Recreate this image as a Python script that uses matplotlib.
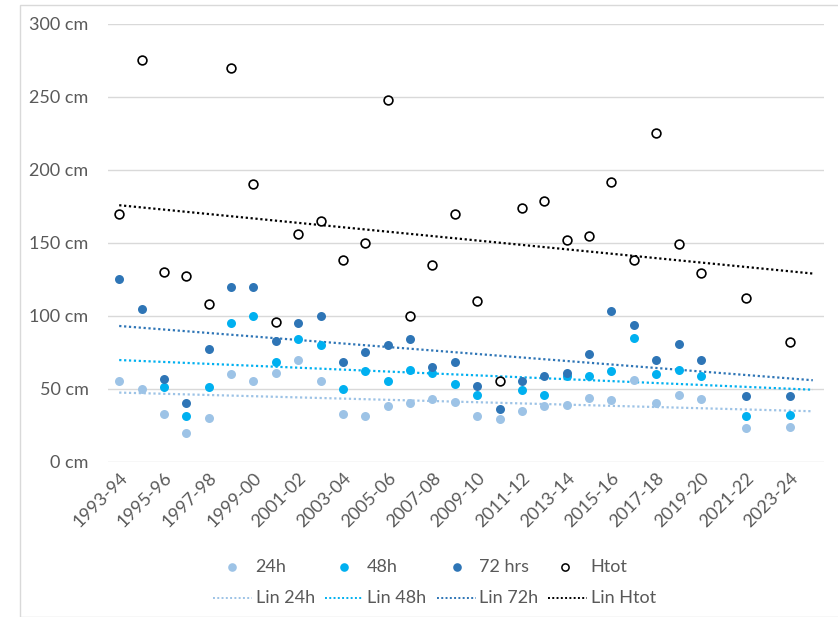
import numpy as np
import matplotlib
matplotlib.use("Agg")
import matplotlib.pyplot as plt
from matplotlib.lines import Line2D
from matplotlib.patches import Rectangle

plt.rcParams['font.family'] = ['Lato', 'DejaVu Sans']

nan = np.nan
seasons = [f"{y}-{str(y + 1)[-2:]}" for y in range(1993, 2025)]

h24 = [55, 50, 33, 20, 30, 60, 55, 61, 70, 55, 33, 31, 38, 40, 43, 41,
       31, 29, 35, 38, 39, 44, 42, 56, 40, 46, 43, nan, 23, nan, 24, nan]
h48 = [nan, nan, 51, 31, 51, 95, 100, 68, 84, 80, 50, 62, 55, 63, 61, 53,
       46, nan, 49, 46, 59, 59, 62, 85, 60, 63, 59, nan, 31, nan, 32, nan]
h72 = [125, 105, 57, 40, 77, 120, 120, 83, 95, 100, 68, 75, 80, 84, 65, 68,
       52, 36, 55, 59, 61, 74, 103, 94, 70, 81, 70, nan, 45, nan, 45, nan]
htot = [170, 275, 130, 127, 108, 270, 190, 96, 156, 165, 138, 150, 248, 100, 135, 170,
        110, 55, 174, 179, 152, 155, 192, 138, 225, 149, 129, nan, 112, nan, 82, nan]

c24 = '#9DC3E6'
c48 = '#00B0F0'
c72 = '#2E75B6'
ctext = '#595959'
dotted = (0, (1, 1.2))

W, H = 838, 617
fig = plt.figure(figsize=(W / 100, H / 100), dpi=100)
fig.patches.append(Rectangle((20 / W, 0), 1, 1 - 5 / H, transform=fig.transFigure,
                             fill=False, edgecolor='#d9d9d9', linewidth=1.0))
ax = fig.add_axes([108 / W, 1 - 461.7 / H, (824 - 108) / W, (461.7 - 24) / H])

x = np.arange(len(seasons))


def trend(vals):
    v = np.array(vals, dtype=float)
    m = ~np.isnan(v)
    k, b = np.polyfit(x[m], v[m], 1)
    return k * x + b


series = [(h24, c24), (h48, c48), (h72, c72)]

for vals, col in series:
    ax.scatter(x, vals, s=42, color=col, zorder=3, linewidths=0)
ax.scatter(x, htot, s=40, facecolor='white', edgecolor='black', linewidths=1.2, zorder=4)

for vals, col in series:
    ax.plot(x, trend(vals), color=col, linestyle=dotted, linewidth=1.6, zorder=2)
ax.plot(x, trend(htot), color='black', linestyle=dotted, linewidth=1.6, zorder=2)

ax.set_xlim(-0.5, len(seasons) - 0.5)
ax.set_ylim(0, 300)
ax.set_yticks(range(0, 301, 50))
ax.set_yticklabels([f"{v} cm" for v in range(0, 301, 50)])
ax.set_xticks(x[::2])
ax.set_xticklabels(seasons[::2], rotation=45, ha='right', va='top', rotation_mode='anchor')
ax.tick_params(axis='both', length=0, labelsize=13, labelcolor=ctext)
ax.tick_params(axis='y', pad=14)
ax.tick_params(axis='x', pad=6)
ax.grid(axis='y', color='#d9d9d9', linewidth=1.0)
ax.set_axisbelow(True)
for s in ax.spines.values():
    s.set_visible(False)

# legend, drawn entry by entry in figure pixels
def fx(px):
    return px / W


def fy(py):
    return 1 - py / H


row1_y, row2_y = 566.7, 598.3
marker_x = [232.3, 344, 456.7, 565.3]
text_x = [255.7, 367, 479, 590.7]
point_labels = ['24h', '48h', '72 hrs', 'Htot']
for mx, tx, col, lab in zip(marker_x, text_x, [c24, c48, c72, None], point_labels):
    if col is None:
        h = Line2D([fx(mx)], [fy(row1_y)], transform=fig.transFigure, linestyle='none',
                   marker='o', markersize=5.2, markerfacecolor='white',
                   markeredgecolor='black', markeredgewidth=1.1)
    else:
        h = Line2D([fx(mx)], [fy(row1_y)], transform=fig.transFigure, linestyle='none',
                   marker='o', markersize=6.2, markerfacecolor=col, markeredgewidth=0)
    fig.add_artist(h)
    fig.text(fx(tx), fy(row1_y), lab, fontsize=13, color=ctext, ha='left', va='center')

line_x = [(213.3, 251.7), (325, 363.3), (436.7, 476), (548.3, 587.3)]
line_labels = ['Lin 24h', 'Lin 48h', 'Lin 72h', 'Lin Htot']
for (x0, x1), tx, col, lab in zip(line_x, text_x, [c24, c48, c72, 'black'], line_labels):
    fig.add_artist(Line2D([fx(x0), fx(x1)], [fy(row2_y), fy(row2_y)], transform=fig.transFigure,
                          color=col, linestyle=dotted, linewidth=1.4))
    fig.text(fx(tx), fy(row2_y), lab, fontsize=13, color=ctext, ha='left', va='center')

fig.savefig('out.png', dpi=100)
